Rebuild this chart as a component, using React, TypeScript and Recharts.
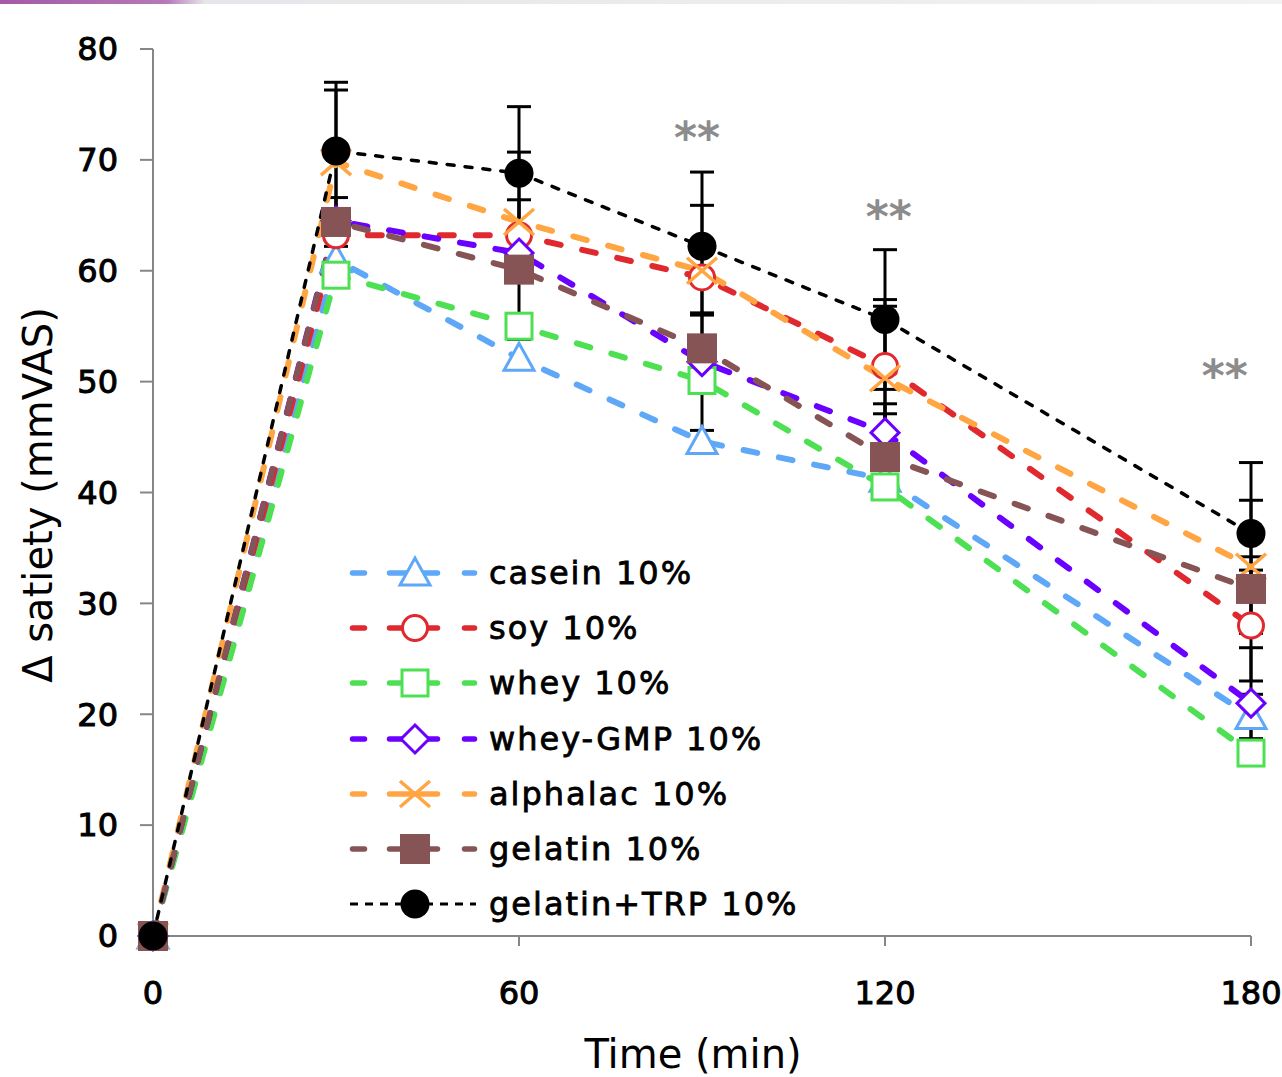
import React from 'react';
import { LineChart, Line, XAxis, YAxis, ErrorBar, Legend, ReferenceDot } from 'recharts';

type Err = [number, number] | null;

const times = [0, 30, 60, 90, 120, 180];

const casein = [0, 61.0, 52.1, 44.6, 41.2, 19.8];
const soy = [0, 63.2, 63.2, 59.4, 51.4, 28.0];
const whey = [0, 59.6, 55.0, 50.1, 40.5, 16.5];
const wheyGmp = [0, 64.5, 61.6, 51.8, 45.4, 21.0];
const alphalac = [0, 69.8, 64.4, 60.0, 50.3, 33.3];
const gelatin = [0, 64.4, 60.1, 53.0, 43.2, 31.3];
const gelatinTrp = [0, 70.8, 68.8, 62.2, 55.6, 36.3];

// [minus, plus]
const caseinErr: Err[] = [null, null, null, null, null, [2, 2]];
const soyErr: Err[] = [null, null, null, null, [6, 6], [5, 5]];
const wheyErr: Err[] = [null, null, null, [4.5, 0], null, null];
const wheyGmpErr: Err[] = [null, null, null, null, [2.6, 2.6], [5, 5]];
const alphalacErr: Err[] = [null, [6.5, 6.5], [4, 6.3], [6, 5.9], [6.5, 6.5], [6, 6]];
const gelatinErr: Err[] = [null, [2.2, 2.2], [6.3, 6.3], [3, 3], [2.7, 3.9], [2.9, 2.9]];
const gelatinTrpErr: Err[] = [null, [6.2, 6.2], [6, 6], [6, 6.7], [6.3, 6.3], [5, 6.4]];

const xTicks = [0, 60, 120, 180];
const yTicks = [0, 10, 20, 30, 40, 50, 60, 70, 80];

const stars = [
  { x: 89.2, y: 72.0 },
  { x: 120.6, y: 64.9 },
  { x: 175.7, y: 50.6 },
];

type Shape = 'triangle' | 'circle' | 'square' | 'diamond' | 'cross' | 'filledSquare' | 'dot';

const series = [
  { key: 'casein', name: 'casein 10%', color: '#5FA8F8', shape: 'triangle' as Shape, values: casein, errors: caseinErr },
  { key: 'soy', name: 'soy 10%', color: '#E0282F', shape: 'circle' as Shape, values: soy, errors: soyErr },
  { key: 'whey', name: 'whey 10%', color: '#4CE052', shape: 'square' as Shape, values: whey, errors: wheyErr },
  { key: 'wheyGmp', name: 'whey-GMP 10%', color: '#6A00FF', shape: 'diamond' as Shape, values: wheyGmp, errors: wheyGmpErr },
  { key: 'alphalac', name: 'alphalac 10%', color: '#FFA542', shape: 'cross' as Shape, values: alphalac, errors: alphalacErr },
  { key: 'gelatin', name: 'gelatin 10%', color: '#865454', shape: 'filledSquare' as Shape, values: gelatin, errors: gelatinErr },
  { key: 'gelatinTrp', name: 'gelatin+TRP 10%', color: '#000000', shape: 'dot' as Shape, values: gelatinTrp, errors: gelatinTrpErr },
];

const data = times.map((t, i) => {
  const row: Record<string, any> = { time: t };
  series.forEach((s) => {
    row[s.key] = s.values[i];
    row[s.key + 'Err'] = s.errors[i];
  });
  return row;
});

const FONT = '"DejaVu Sans", Verdana, sans-serif';

function Marker({ shape, color, cx, cy }: { shape: Shape; color: string; cx: number; cy: number }) {
  switch (shape) {
    case 'triangle':
      return (
        <polygon
          points={`${cx},${cy - 15} ${cx - 15},${cy + 12} ${cx + 15},${cy + 12}`}
          fill="#fff"
          stroke={color}
          strokeWidth={3}
        />
      );
    case 'circle':
      return <circle cx={cx} cy={cy} r={12.5} fill="#fff" stroke={color} strokeWidth={3} />;
    case 'square':
      return <rect x={cx - 13} y={cy - 13} width={26} height={26} fill="#fff" stroke={color} strokeWidth={3} />;
    case 'diamond':
      return (
        <polygon
          points={`${cx},${cy - 14} ${cx + 14},${cy} ${cx},${cy + 14} ${cx - 14},${cy}`}
          fill="#fff"
          stroke={color}
          strokeWidth={3}
        />
      );
    case 'cross':
      return (
        <g stroke={color} strokeWidth={3.5}>
          <line x1={cx - 15} y1={cy - 13} x2={cx + 15} y2={cy + 13} />
          <line x1={cx - 15} y1={cy + 13} x2={cx + 15} y2={cy - 13} />
        </g>
      );
    case 'filledSquare':
      return <rect x={cx - 15} y={cy - 15} width={30} height={30} fill={color} />;
    default:
      return <circle cx={cx} cy={cy} r={14.5} fill={color} />;
  }
}

const LegendBox = () => (
  <div
    style={{
      fontFamily: FONT,
      fontSize: 32,
      letterSpacing: 2,
      color: '#000',
      WebkitTextStroke: '0.8px #000',
    }}
  >
    {series.map((s) => (
      <div key={s.key} style={{ display: 'flex', alignItems: 'center', height: 55.3, whiteSpace: 'nowrap' }}>
        <svg width={141} height={40} style={{ flex: 'none' }}>
          {s.shape === 'dot' ? (
            <line x1={2} y1={20} x2={128} y2={20} stroke="#000" strokeWidth={3} strokeDasharray="8 7" />
          ) : (
            <g stroke={s.color} strokeWidth={5.5} strokeLinecap="round">
              <line x1={4.5} y1={20} x2={16.5} y2={20} />
              <line x1={41.5} y1={20} x2={89.5} y2={20} />
              <line x1={116.5} y1={20} x2={126.5} y2={20} />
            </g>
          )}
          <Marker shape={s.shape} color={s.color} cx={67} cy={20} />
        </svg>
        <span>{s.name}</span>
      </div>
    ))}
  </div>
);

const tickStyle = { fontSize: 32, fill: '#000', stroke: '#000', strokeWidth: 1, fontFamily: FONT };

export default function App() {
  return (
    <div style={{ position: 'absolute', left: 0, top: 0, width: 1282, height: 1077, background: '#fff' }}>
      <div
        style={{
          position: 'absolute',
          left: 0,
          top: 0,
          width: 1282,
          height: 4,
          background: 'linear-gradient(to right, #a45aa8 0%, #b678b8 13%, #e6e6ea 16%, #f2f2f2 100%)',
        }}
      />
      <LineChart
        width={1282}
        height={1077}
        data={data}
        margin={{ top: 49, right: 31, bottom: 41, left: 0 }}
        style={{ fontFamily: FONT }}
      >
        <XAxis
          dataKey="time"
          type="number"
          domain={[0, 180]}
          ticks={xTicks}
          height={100}
          axisLine={{ stroke: '#868686', strokeWidth: 2 }}
          tickLine={{ stroke: '#868686', strokeWidth: 2 }}
          tickSize={10}
          tickMargin={35}
          tick={tickStyle}
          label={() => (
            <text x={693} y={1068} textAnchor="middle" fontSize={40} fill="#000" fontFamily={FONT}>
              Time (min)
            </text>
          )}
        />
        <YAxis
          type="number"
          domain={[0, 80]}
          ticks={yTicks}
          width={153}
          axisLine={{ stroke: '#868686', strokeWidth: 2 }}
          tickLine={{ stroke: '#868686', strokeWidth: 2 }}
          tickSize={13}
          tickMargin={22}
          tick={tickStyle}
          label={() => (
            <text
              transform="translate(52,495) rotate(-90)"
              textAnchor="middle"
              fontSize={40}
              fill="#000"
              fontFamily={FONT}
            >
              Δ satiety (mmVAS)
            </text>
          )}
        />

        {series.map((s) => (
          <Line
            key={s.key + '-err'}
            dataKey={s.key}
            stroke="none"
            dot={false}
            activeDot={false}
            legendType="none"
            isAnimationActive={false}
          >
            <ErrorBar dataKey={s.key + 'Err'} direction="y" width={12} strokeWidth={3} stroke="#000" />
          </Line>
        ))}

        {series.map((s) => (
          <Line
            key={s.key}
            name={s.name}
            dataKey={s.key}
            type="linear"
            stroke={s.color}
            strokeWidth={s.shape === 'dot' ? 3.5 : 6}
            strokeDasharray={s.shape === 'dot' ? '7 11' : '14 22'}
            strokeLinecap="round"
            activeDot={false}
            isAnimationActive={false}
            dot={(p: any) => (
              <g key={`${s.key}-${p.index}`}>
                <Marker shape={s.shape} color={s.color} cx={p.cx} cy={p.cy} />
              </g>
            )}
          />
        ))}

        {stars.map((a, i) => (
          <ReferenceDot
            key={i}
            x={a.x}
            y={a.y}
            r={0}
            fill="none"
            stroke="none"
            label={{ value: '**', position: 'center', fill: '#8c8c8c', fontSize: 44, fontWeight: 'bold' }}
          />
        ))}

        <Legend
          layout="vertical"
          align="center"
          verticalAlign="middle"
          content={() => <LegendBox />}
          wrapperStyle={{ left: 348, top: 545, width: 520 }}
        />
      </LineChart>
    </div>
  );
}
